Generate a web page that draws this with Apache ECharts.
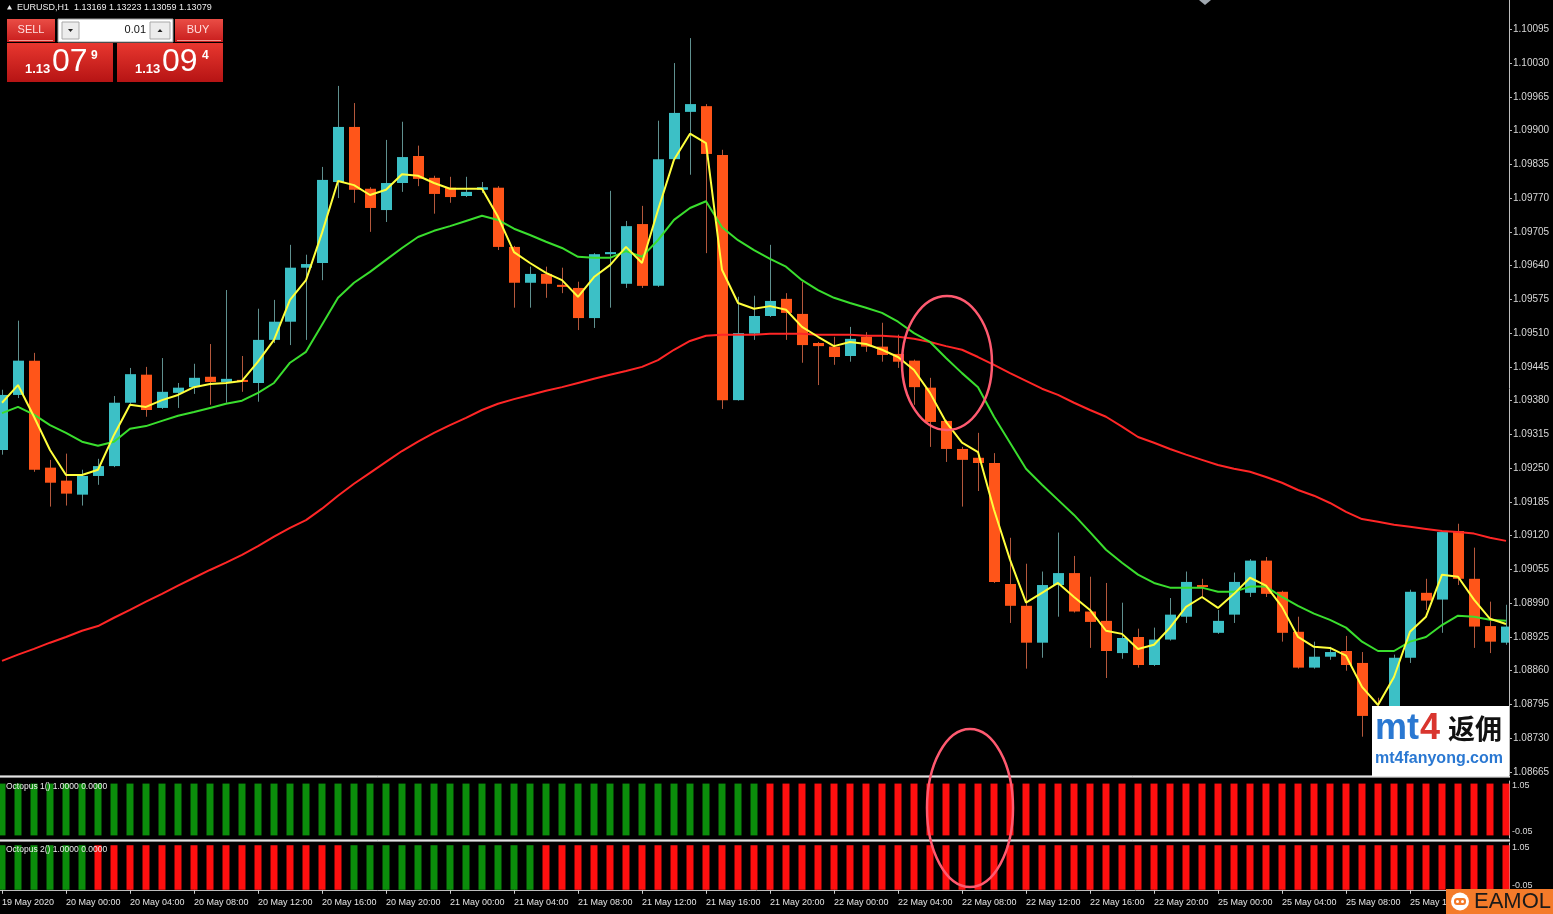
<!DOCTYPE html>
<html><head><meta charset="utf-8">
<script src="https://cdn.jsdelivr.net/npm/echarts@6/dist/echarts.min.js"></script>
<style>html,body{margin:0;padding:0;background:#000;overflow:hidden}#chart{width:1553px;height:914px;}</style>
</head><body><div id="chart"></div>
<script>
const categories = [
'19 May 20:00','19 May 21:00','19 May 22:00','19 May 23:00',
'20 May 00:00','20 May 01:00','20 May 02:00','20 May 03:00','20 May 04:00','20 May 05:00','20 May 06:00','20 May 07:00',
'20 May 08:00','20 May 09:00','20 May 10:00','20 May 11:00','20 May 12:00','20 May 13:00','20 May 14:00','20 May 15:00',
'20 May 16:00','20 May 17:00','20 May 18:00','20 May 19:00','20 May 20:00','20 May 21:00','20 May 22:00','20 May 23:00',
'21 May 00:00','21 May 01:00','21 May 02:00','21 May 03:00','21 May 04:00','21 May 05:00','21 May 06:00','21 May 07:00',
'21 May 08:00','21 May 09:00','21 May 10:00','21 May 11:00','21 May 12:00','21 May 13:00','21 May 14:00','21 May 15:00',
'21 May 16:00','21 May 17:00','21 May 18:00','21 May 19:00','21 May 20:00','21 May 21:00','21 May 22:00','21 May 23:00',
'22 May 00:00','22 May 01:00','22 May 02:00','22 May 03:00','22 May 04:00','22 May 05:00','22 May 06:00','22 May 07:00',
'22 May 08:00','22 May 09:00','22 May 10:00','22 May 11:00','22 May 12:00','22 May 13:00','22 May 14:00','22 May 15:00',
'22 May 16:00','22 May 17:00','22 May 18:00','22 May 19:00','22 May 20:00','22 May 21:00','22 May 22:00','22 May 23:00',
'25 May 00:00','25 May 01:00','25 May 02:00','25 May 03:00','25 May 04:00','25 May 05:00','25 May 06:00','25 May 07:00',
'25 May 08:00','25 May 09:00','25 May 10:00','25 May 11:00','25 May 12:00','25 May 13:00','25 May 14:00','25 May 15:00',
'25 May 16:00','25 May 17:00','25 May 18:00'
];
const firstDateLabel = '19 May 2020';

const open = [
1.09285,1.09391,1.09457,1.09251,1.09226,1.09199,1.09235,1.09254,1.09376,1.09430,
1.09366,1.09395,1.09406,1.09426,1.09416,1.09420,1.09414,1.09497,1.09532,1.09636,
1.09645,1.09801,1.09907,1.09788,1.09747,1.09799,1.09851,1.09809,1.09790,1.09774,
1.09786,1.09790,1.09676,1.09607,1.09624,1.09603,1.09597,1.09539,1.09662,1.09605,
1.09720,1.09601,1.09845,1.09936,1.09947,1.09853,1.09381,1.09509,1.09543,1.09576,
1.09547,1.09491,1.09484,1.09466,1.09503,1.09484,1.09470,1.09457,1.09405,1.09341,
1.09287,1.09270,1.09260,1.09027,1.08985,1.08914,1.09025,1.09048,1.08974,1.08956,
1.08894,1.08925,1.08871,1.08920,1.08964,1.09025,1.08933,1.08968,1.09010,1.09072,
1.09012,1.08935,1.08866,1.08887,1.08898,1.08875,1.08785,1.08777,1.08885,1.09010,
1.08997,1.09129,1.09037,1.08946,1.08914
];
const high = [
1.09401,1.09534,1.09472,1.09266,1.09278,1.09247,1.09268,1.09389,1.09443,1.09445,
1.09462,1.09414,1.09451,1.09489,1.09593,1.09466,1.09557,1.09574,1.09680,1.09661,
1.09830,1.09986,1.09953,1.09791,1.09882,1.09917,1.09871,1.09813,1.09811,1.09811,
1.09801,1.09793,1.09678,1.09638,1.09638,1.09636,1.09609,1.09664,1.09784,1.09726,
1.09755,1.09919,1.10030,1.10078,1.09951,1.09863,1.09580,1.09582,1.09680,1.09587,
1.09609,1.09493,1.09503,1.09522,1.09512,1.09530,1.09507,1.09459,1.09424,1.09343,
1.09291,1.09318,1.09279,1.09116,1.09066,1.09051,1.09126,1.09081,1.09041,1.09029,
1.08991,1.08941,1.08943,1.09000,1.09051,1.09037,1.08977,1.09049,1.09075,1.09079,
1.09014,1.08964,1.08916,1.08906,1.08927,1.08896,1.08808,1.08891,1.09016,1.09037,
1.09129,1.09143,1.09097,1.08993,1.08987
];
const low = [
1.09276,1.09385,1.09243,1.09176,1.09178,1.09178,1.09218,1.09252,1.09374,1.09349,
1.09364,1.09366,1.09393,1.09372,1.09376,1.09397,1.09378,1.09491,1.09487,1.09497,
1.09612,1.09770,1.09761,1.09705,1.09724,1.09782,1.09793,1.09740,1.09761,1.09772,
1.09780,1.09670,1.09559,1.09559,1.09578,1.09587,1.09516,1.09520,1.09559,1.09597,
1.09597,1.09599,1.09844,1.09815,1.09664,1.09364,1.09380,1.09497,1.09541,1.09497,
1.09453,1.09410,1.09449,1.09455,1.09474,1.09455,1.09443,1.09372,1.09291,1.09262,
1.09176,1.09206,1.09029,1.08952,1.08864,1.08885,1.08964,1.08972,1.08904,1.08846,
1.08883,1.08866,1.08869,1.08918,1.08952,1.09002,1.08931,1.08952,1.09002,1.09002,
1.08916,1.08864,1.08864,1.08881,1.08860,1.08733,1.08750,1.08766,1.08875,1.08977,
1.08933,1.09025,1.08904,1.08894,1.08910
];
const close = [
1.09391,1.09457,1.09247,1.09222,1.09201,1.09235,1.09254,1.09376,1.09431,1.09362,
1.09397,1.09405,1.09424,1.09416,1.09422,1.09416,1.09497,1.09532,1.09636,1.09643,
1.09805,1.09907,1.09786,1.09751,1.09799,1.09849,1.09807,1.09778,1.09772,1.09782,
1.09791,1.09676,1.09607,1.09624,1.09605,1.09599,1.09539,1.09662,1.09666,1.09716,
1.09601,1.09845,1.09934,1.09951,1.09855,1.09381,1.09510,1.09543,1.09572,1.09549,
1.09487,1.09485,1.09464,1.09499,1.09484,1.09468,1.09455,1.09406,1.09339,1.09287,
1.09266,1.09260,1.09031,1.08985,1.08914,1.09025,1.09048,1.08974,1.08954,1.08898,
1.08923,1.08871,1.08920,1.08968,1.09031,1.09022,1.08956,1.09031,1.09072,1.09008,
1.08933,1.08866,1.08887,1.08896,1.08871,1.08773,1.08773,1.08885,1.09012,1.08995,
1.09127,1.09037,1.08945,1.08916,1.08945
];
const maFast = [
1.09376,1.09410,1.09349,1.09285,1.09237,1.09237,1.09247,1.09314,1.09372,1.09368,
1.09381,1.09391,1.09406,1.09412,1.09414,1.09418,1.09455,1.09497,1.09574,1.09612,
1.09703,1.09803,1.09795,1.09776,1.09786,1.09816,1.09813,1.09799,1.09788,1.09788,
1.09788,1.09734,1.09666,1.09645,1.09626,1.09612,1.09580,1.09618,1.09641,1.09676,
1.09645,1.09747,1.09844,1.09894,1.09876,1.09632,1.09568,1.09557,1.09562,1.09555,
1.09522,1.09503,1.09485,1.09493,1.09489,1.09478,1.09464,1.09439,1.09395,1.09339,
1.09299,1.09281,1.09170,1.09074,1.08991,1.09010,1.09029,1.09002,1.08977,1.08937,
1.08931,1.08902,1.08910,1.08943,1.08983,1.09002,1.08981,1.09008,1.09039,1.09024,
1.08983,1.08925,1.08906,1.08904,1.08889,1.08829,1.08794,1.08848,1.08935,1.08964,
1.09045,1.09041,1.08997,1.08960,1.08950
];
const maMid = [
1.09356,1.09368,1.09353,1.09333,1.09318,1.09301,1.09293,1.09301,1.09326,1.09331,
1.09341,1.09351,1.09358,1.09366,1.09374,1.09380,1.09395,1.09414,1.09453,1.09474,
1.09526,1.09578,1.09607,1.09628,1.09651,1.09674,1.09695,1.09707,1.09716,1.09726,
1.09736,1.09728,1.09711,1.09699,1.09686,1.09674,1.09657,1.09655,1.09655,1.09668,
1.09657,1.09689,1.09728,1.09751,1.09764,1.09714,1.09689,1.09670,1.09653,1.09638,
1.09612,1.09593,1.09578,1.09568,1.09559,1.09549,1.09532,1.09510,1.09493,1.09462,
1.09433,1.09406,1.09349,1.09299,1.09249,1.09218,1.09189,1.09160,1.09127,1.09093,
1.09068,1.09045,1.09029,1.09020,1.09020,1.09020,1.09012,1.09012,1.09022,1.09022,
1.09002,1.08985,1.08970,1.08958,1.08943,1.08916,1.08898,1.08898,1.08916,1.08925,
1.08948,1.08966,1.08964,1.08958,1.08956
];
const maSlow = [
1.08879,1.08891,1.08902,1.08914,1.08925,1.08937,1.08946,1.08962,1.08977,1.08993,
1.09008,1.09024,1.09039,1.09054,1.09068,1.09083,1.09100,1.09118,1.09135,1.09150,
1.09172,1.09197,1.09220,1.09241,1.09262,1.09283,1.09301,1.09318,1.09333,1.09347,
1.09362,1.09374,1.09383,1.09391,1.09399,1.09406,1.09414,1.09422,1.09430,1.09437,
1.09445,1.09458,1.09478,1.09495,1.09505,1.09507,1.09507,1.09507,1.09509,1.09509,
1.09509,1.09507,1.09507,1.09507,1.09505,1.09505,1.09503,1.09499,1.09493,1.09485,
1.09478,1.09464,1.09449,1.09433,1.09418,1.09403,1.09391,1.09376,1.09362,1.09349,
1.09330,1.09310,1.09299,1.09287,1.09276,1.09266,1.09256,1.09249,1.09243,1.09233,
1.09222,1.09208,1.09197,1.09183,1.09166,1.09152,1.09147,1.09141,1.09137,1.09133,
1.09129,1.09127,1.09124,1.09116,1.09110
];
const octo1Up = [
1,1,1,1,1,1,1,1,1,1, 1,1,1,1,1,1,1,1,1,1, 1,1,1,1,1,1,1,1,1,1, 1,1,1,1,1,1,1,1,1,1,
1,1,1,1,1,1,1,1,0,0, 0,0,0,0,0,0,0,0,0,0, 0,0,0,0,0,0,0,0,0,0, 0,0,0,0,0,0,0,0,0,0,
0,0,0,0,0,0,0,0,0,0, 0,0,0,0,0
];
const octo1Down = [
0,0,0,0,0,0,0,0,0,0, 0,0,0,0,0,0,0,0,0,0, 0,0,0,0,0,0,0,0,0,0, 0,0,0,0,0,0,0,0,0,0,
0,0,0,0,0,0,0,0,1,1, 1,1,1,1,1,1,1,1,1,1, 1,1,1,1,1,1,1,1,1,1, 1,1,1,1,1,1,1,1,1,1,
1,1,1,1,1,1,1,1,1,1, 1,1,1,1,1
];
const octo2Up = [
1,1,1,1,1,1,0,0,0,0, 0,0,0,0,0,0,0,0,0,0, 0,0,1,1,1,1,1,1,1,1, 1,1,1,1,0,0,0,0,0,0,
0,0,0,0,0,0,0,0,0,0, 0,0,0,0,0,0,0,0,0,0, 0,0,0,0,0,0,0,0,0,0, 0,0,0,0,0,0,0,0,0,0,
0,0,0,0,0,0,0,0,0,0, 0,0,0,0,0
];
const octo2Down = [
0,0,0,0,0,0,1,1,1,1, 1,1,1,1,1,1,1,1,1,1, 1,1,0,0,0,0,0,0,0,0, 0,0,0,0,1,1,1,1,1,1,
1,1,1,1,1,1,1,1,1,1, 1,1,1,1,1,1,1,1,1,1, 1,1,1,1,1,1,1,1,1,1, 1,1,1,1,1,1,1,1,1,1,
1,1,1,1,1,1,1,1,1,1, 1,1,1,1,1
];
const priceTicks = [1.08665,1.08730,1.08795,1.08860,1.08925,1.08990,1.09055,1.09120,1.09185,1.09250,1.09315,
  1.09380,1.09445,1.09510,1.09575,1.09640,1.09705,1.09770,1.09835,1.09900,1.09965,1.10030,1.10095];
const indTicks = [-0.05, 1.05];

const FONT = '"Liberation Sans", Arial, sans-serif';
const BULL = '#3cc0c6', BEAR = '#ff5519', WICK_UP = '#5f908f', WICK_DN = '#b4583c';
const candleData = categories.map((c, i) => [i, open[i], close[i], low[i], high[i]]);

function renderCandle(params, api) {
  const i = api.value(0), o = api.value(1), c = api.value(2), l = api.value(3), h = api.value(4);
  const po = api.coord([i, o]), pc = api.coord([i, c]), pl = api.coord([i, l]), ph = api.coord([i, h]);
  const x = Math.round(po[0]);
  const up = c >= o;
  const cs = params.coordSys;
  const limit = cs.x + cs.width - 5;
  const bx = x - 5;
  const bw = Math.max(0, Math.min(bx + 11, limit) - bx);
  const top = Math.min(po[1], pc[1]);
  const hgt = Math.max(2, Math.abs(po[1] - pc[1]));
  const children = [];
  if (x + 0.5 < limit) {
    children.push({ type: 'line', shape: { x1: x + 0.5, y1: ph[1], x2: x + 0.5, y2: pl[1] },
      style: { stroke: up ? WICK_UP : WICK_DN, lineWidth: 1 } });
  }
  children.push({ type: 'rect', shape: { x: bx, y: top, width: bw, height: hgt },
    style: { fill: up ? BULL : BEAR } });
  return { type: 'group', children };
}

const labelEvery4 = (idx) => idx % 4 === 0;
const gridL = -6, gridW = 1520;

const indAxis = (gi) => ({
  gridIndex: gi, type: 'value', position: 'right', offset: -5, min: -0.05, max: 1.05,
  splitLine: { show: false },
  axisLine: { show: true, lineStyle: { color: '#bdbdbd', width: 1 } },
  axisTick: { show: false },
  axisLabel: {
    customValues: indTicks, margin: 3, color: '#d8d8d8', fontSize: 9, fontFamily: FONT,
    formatter: v => (v > 0.5 ? '{t|' : '{b|') + v.toFixed(2) + '}',
    rich: { t: { padding: [10, 0, 0, 0], color: '#d8d8d8', fontSize: 9, fontFamily: FONT },
            b: { padding: [0, 0, 12, 0], color: '#d8d8d8', fontSize: 9, fontFamily: FONT } }
  }
});

const hiddenX = (gi) => ({ gridIndex: gi, type: 'category', data: categories, boundaryGap: true, show: false });

const txt = (x, y, text, font, fill, align, valign, z) => ({
  type: 'text', x, y, z: z || 120,
  style: { text, font, fill, textAlign: align || 'left', textVerticalAlign: valign || 'middle' }
});
const grad = (a, b) => ({ type: 'linear', x: 0, y: 0, x2: 0, y2: 1, colorStops: [{ offset: 0, color: a }, { offset: 1, color: b }] });

const option = {
  backgroundColor: '#000000',
  animation: false,
  grid: [
    { left: gridL, top: 0, width: gridW, height: 777, outerBoundsMode: 'none', containLabel: false },
    { left: gridL, top: 781, width: gridW, height: 57, outerBoundsMode: 'none', containLabel: false },
    { left: gridL, top: 843, width: gridW, height: 49, outerBoundsMode: 'none', containLabel: false }
  ],
  xAxis: [
    hiddenX(0), hiddenX(1),
    { gridIndex: 2, type: 'category', data: categories, boundaryGap: true,
      axisLine: { show: true, lineStyle: { color: '#bdbdbd', width: 1 } },
      axisTick: { show: true, alignWithLabel: true, interval: labelEvery4, length: 4, lineStyle: { color: '#cfcfcf' } },
      axisLabel: { interval: labelEvery4, align: 'left', margin: 6, color: '#e4e4e4', fontSize: 9, fontFamily: FONT,
        formatter: (v, idx) => idx === 0 ? firstDateLabel : v }
    }
  ],
  yAxis: [
    { gridIndex: 0, type: 'value', position: 'right', offset: -5, min: 1.086554, max: 1.101514, scale: true,
      splitLine: { show: false },
      axisLine: { show: true, lineStyle: { color: '#bdbdbd', width: 1 } },
      axisTick: { show: true, customValues: priceTicks, length: 3, lineStyle: { color: '#bdbdbd' } },
      axisLabel: { customValues: priceTicks, margin: 4, color: '#d8d8d8', fontSize: 10, fontFamily: FONT,
        formatter: v => v.toFixed(5) } },
    indAxis(1),
    indAxis(2)
  ],
  series: [
    { name: 'EURUSD', type: 'custom', xAxisIndex: 0, yAxisIndex: 0, renderItem: renderCandle,
      encode: { x: 0, y: [1, 2, 3, 4] }, data: candleData, z: 2, silent: true },
    { name: 'MA slow', type: 'line', xAxisIndex: 0, yAxisIndex: 0, data: maSlow, symbol: 'none', z: 3,
      lineStyle: { color: '#ff2626', width: 2 }, silent: true },
    { name: 'MA mid', type: 'line', xAxisIndex: 0, yAxisIndex: 0, data: maMid, symbol: 'none', z: 4,
      lineStyle: { color: '#3ade2e', width: 2 }, silent: true },
    { name: 'MA fast', type: 'line', xAxisIndex: 0, yAxisIndex: 0, data: maFast, symbol: 'none', z: 5,
      lineStyle: { color: '#ffff3c', width: 2 }, silent: true },
    { name: 'Octopus 1 up', type: 'bar', xAxisIndex: 1, yAxisIndex: 1, data: octo1Up, barWidth: 7, barGap: '-100%',
      itemStyle: { color: '#0b8d0b' }, silent: true },
    { name: 'Octopus 1 down', type: 'bar', xAxisIndex: 1, yAxisIndex: 1, data: octo1Down, barWidth: 7, barGap: '-100%',
      itemStyle: { color: '#ff0f0f' }, silent: true },
    { name: 'Octopus 2 up', type: 'bar', xAxisIndex: 2, yAxisIndex: 2, data: octo2Up, barWidth: 7, barGap: '-100%',
      itemStyle: { color: '#0b8d0b' }, silent: true },
    { name: 'Octopus 2 down', type: 'bar', xAxisIndex: 2, yAxisIndex: 2, data: octo2Down, barWidth: 7, barGap: '-100%',
      itemStyle: { color: '#ff0f0f' }, silent: true }
  ],
  graphic: { elements: [
    { type: 'rect', z: 60, shape: { x: 0, y: 775, width: 1510, height: 3 }, style: { fill: '#8a8a8a' } },
    { type: 'line', z: 61, shape: { x1: 0, y1: 776.5, x2: 1510, y2: 776.5 }, style: { stroke: '#e2e2e2', lineWidth: 1 } },
    { type: 'rect', z: 60, shape: { x: 0, y: 839, width: 1510, height: 3 }, style: { fill: '#8a8a8a' } },
    { type: 'line', z: 61, shape: { x1: 0, y1: 840.5, x2: 1510, y2: 840.5 }, style: { stroke: '#e2e2e2', lineWidth: 1 } },
    txt(6, 787, 'Octopus 1() 1.0000 0.0000', '8.5px ' + FONT, '#ececec'),
    txt(6, 850, 'Octopus 2() 1.0000 0.0000', '8.5px ' + FONT, '#ececec'),
    { type: 'polygon', z: 120, shape: { points: [[7, 9.5], [12, 9.5], [9.5, 5]] }, style: { fill: '#e8e8e8' } },
    txt(17, 7.5, 'EURUSD,H1  1.13169 1.13223 1.13059 1.13079', '9px ' + FONT, '#ececec'),
    { type: 'rect', z: 110, shape: { x: 7, y: 19, width: 48, height: 23 }, style: { fill: grad('#ea4d45', '#c81d1d') } },
    { type: 'line', z: 111, shape: { x1: 9, y1: 40.5, x2: 53, y2: 40.5 }, style: { stroke: '#f29a92', lineWidth: 1 } },
    txt(31, 30, 'SELL', '11px ' + FONT, '#ffdede', 'center'),
    { type: 'rect', z: 110, shape: { x: 58, y: 19, width: 115, height: 23 }, style: { fill: '#ffffff', stroke: '#9a9a9a', lineWidth: 1 } },
    { type: 'rect', z: 111, shape: { x: 62, y: 22, width: 17, height: 17 }, style: { fill: '#ececec', stroke: '#a8a8a8', lineWidth: 1 } },
    { type: 'polygon', z: 112, shape: { points: [[68, 29], [73, 29], [70.5, 32]] }, style: { fill: '#222' } },
    txt(146, 30, '0.01', '11px ' + FONT, '#111111', 'right'),
    { type: 'rect', z: 111, shape: { x: 150, y: 22, width: 20, height: 17 }, style: { fill: '#ececec', stroke: '#a8a8a8', lineWidth: 1 } },
    { type: 'polygon', z: 112, shape: { points: [[157.5, 32], [162.5, 32], [160, 29]] }, style: { fill: '#222' } },
    { type: 'rect', z: 110, shape: { x: 175, y: 19, width: 48, height: 23 }, style: { fill: grad('#ea4d45', '#c81d1d') } },
    { type: 'line', z: 111, shape: { x1: 177, y1: 40.5, x2: 221, y2: 40.5 }, style: { stroke: '#f29a92', lineWidth: 1 } },
    txt(198, 30, 'BUY', '11px ' + FONT, '#ffdede', 'center'),
    { type: 'rect', z: 110, shape: { x: 7, y: 43, width: 106, height: 39 }, style: { fill: grad('#e8372f', '#b61414') } },
    { type: 'rect', z: 110, shape: { x: 117, y: 43, width: 106, height: 39 }, style: { fill: grad('#e8372f', '#b61414') } },
    txt(25, 76, '1.13', 'bold 13px ' + FONT, '#ffffff', 'left', 'bottom'),
    txt(52, 78, '07', '32px ' + FONT, '#ffffff', 'left', 'bottom'),
    txt(91, 56, '9', 'bold 12px ' + FONT, '#ffffff', 'left', 'middle'),
    txt(135, 76, '1.13', 'bold 13px ' + FONT, '#ffffff', 'left', 'bottom'),
    txt(162, 78, '09', '32px ' + FONT, '#ffffff', 'left', 'bottom'),
    txt(202, 56, '4', 'bold 12px ' + FONT, '#ffffff', 'left', 'middle'),
    { type: 'ellipse', z: 130, shape: { cx: 947, cy: 363, rx: 45, ry: 67 }, style: { fill: 'transparent', stroke: '#ff5a70', lineWidth: 2.5 } },
    { type: 'ellipse', z: 130, shape: { cx: 970, cy: 808, rx: 43, ry: 79 }, style: { fill: 'transparent', stroke: '#ff5a70', lineWidth: 2.5 } },
    { type: 'rect', z: 140, shape: { x: 1372, y: 706, width: 137, height: 70 }, style: { fill: '#ffffff' } },
    txt(1375, 729, 'mt', 'bold 36px ' + FONT, '#2a78d2', 'left', 'middle', 141),
    txt(1420, 729, '4', 'bold 36px ' + FONT, '#d9352e', 'left', 'middle', 141),
    txt(1448, 729, '返佣', 'bold 27px "Noto Sans CJK SC", sans-serif', '#111111', 'left', 'middle', 141),
    txt(1375, 759, 'mt4fanyong.com', 'bold 16px ' + FONT, '#2a78d2', 'left', 'middle', 141),
    { type: 'rect', z: 140, shape: { x: 1446, y: 889, width: 107, height: 25 }, style: { fill: '#f47b2a' } },
    { type: 'circle', z: 141, shape: { cx: 1460, cy: 901.5, r: 9 }, style: { fill: '#ffffff' } },
    { type: 'rect', z: 142, shape: { x: 1454, y: 898, width: 12, height: 7, r: 3 }, style: { fill: '#f47b2a' } },
    { type: 'circle', z: 143, shape: { cx: 1457.5, cy: 901.5, r: 1.5 }, style: { fill: '#ffffff' } },
    { type: 'circle', z: 143, shape: { cx: 1462.5, cy: 901.5, r: 1.5 }, style: { fill: '#ffffff' } },
    txt(1474, 902, 'EAMOL', '22px ' + FONT, '#1a1a1a', 'left', 'middle', 141),
    { type: 'polygon', z: 120, shape: { points: [[1199, 0], [1211, 0], [1205, 5]] }, style: { fill: '#a0a8b0' } }
  ] }
};

const chart = echarts.init(document.getElementById('chart'), null, { renderer: 'canvas' });
chart.setOption(option);
</script>
</body></html>
